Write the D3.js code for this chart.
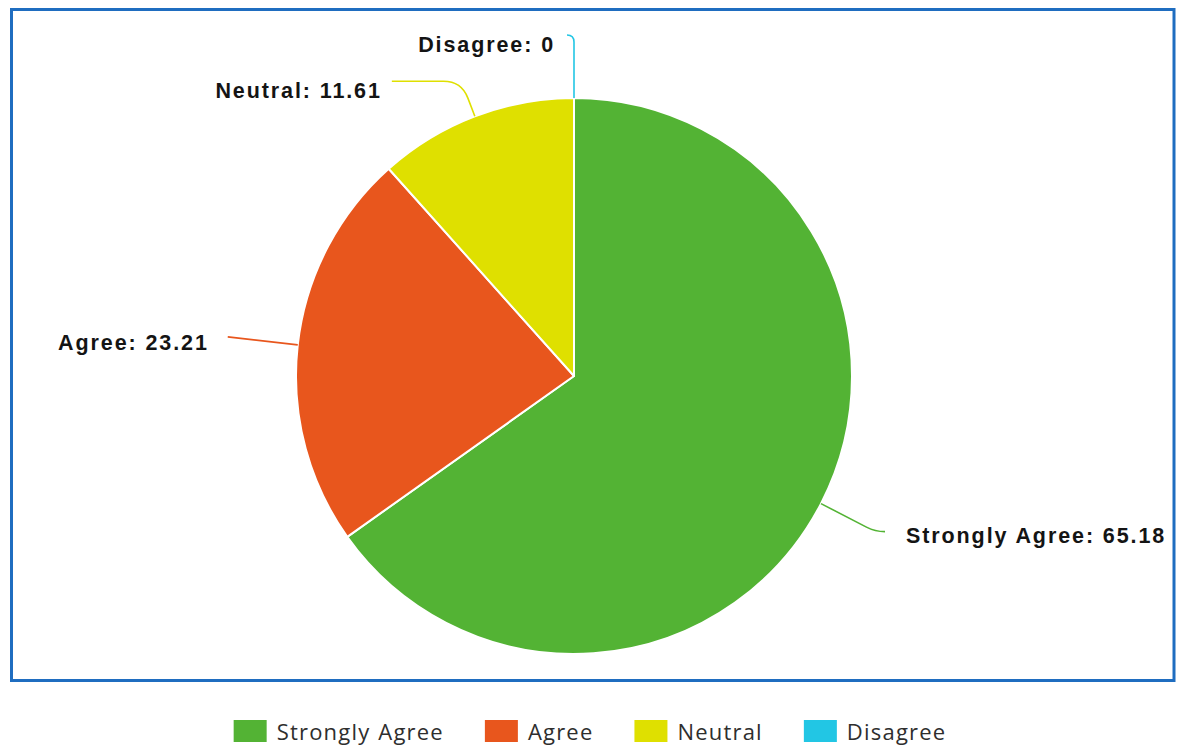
<!DOCTYPE html>
<html>
<head>
<meta charset="utf-8">
<script src="https://cdn.jsdelivr.net/npm/d3@7/dist/d3.min.js"></script>
<style>
  html, body { margin: 0; padding: 0; background: #fff; }
  svg { display: block; }
</style>
</head>
<body>
<svg id="chart" width="1189" height="749"></svg>
<script>
// ---- data ----
const categories = ["Strongly Agree", "Agree", "Neutral", "Disagree"];
const values = [65.18, 23.21, 11.61, 0];
const colors = ["#53b334", "#e8561d", "#dfe000", "#22c6e4"];

// ---- label layout (offset of leader-line end from slice edge, text offsets) ----
const labelLayout = {
  "Strongly Agree": { dx: 64, dy: 28, tdx: 21, tdy: 11.5, anchor: "start" },
  "Agree":          { dx: -70, dy: -8, tdx: -19, tdy: 13, anchor: "end" },
  "Neutral":        { dx: -83, dy: -35, tdx: -10, tdy: 17, anchor: "end" },
  "Disagree":       { dx: -7, dy: -63, tdx: -12, tdy: 16.5, anchor: "end" }
};

const W = 1189, H = 749;
const cx = 574, cy = 376, R = 278;

const svg = d3.select("#chart");

// frame
svg.append("rect")
  .attr("x", 11.5).attr("y", 9.5)
  .attr("width", 1162.5).attr("height", 671)
  .attr("fill", "none")
  .attr("stroke", "#1f6dc0")
  .attr("stroke-width", 3);

const data = categories.map((c, i) => ({ cat: c, value: values[i], color: colors[i] }));

const pie = d3.pie().sort(null).value(d => d.value).startAngle(0).endAngle(2 * Math.PI);
const arcs = pie(data);
const arc = d3.arc().innerRadius(0).outerRadius(R);

const g = svg.append("g").attr("transform", `translate(${cx},${cy})`);

g.selectAll("path.slice")
  .data(arcs.filter(a => a.endAngle > a.startAngle))
  .join("path")
  .attr("class", "slice")
  .attr("d", arc)
  .attr("fill", d => d.data.color)
  .attr("stroke", "#fff")
  .attr("stroke-width", 2)
  .attr("stroke-linejoin", "round");

// leader lines + labels
arcs.forEach(a => {
  const mid = (a.startAngle + a.endAngle) / 2;
  const dir = [Math.sin(mid), -Math.cos(mid)];
  const p1 = [R * dir[0], R * dir[1]];
  const L = labelLayout[a.data.cat];
  const end = [p1[0] + L.dx, p1[1] + L.dy];
  let path;
  const t = Math.abs(dir[1]) > 1e-6 ? (end[1] - p1[1]) / dir[1] : -1;
  const corner = t > 0 ? [p1[0] + dir[0] * t, p1[1] + dir[1] * t] : null;
  const sign = Math.sign(end[0] - p1[0]) || 1;
  if (corner && (end[0] - corner[0]) * sign > 0) {
    const horiz = Math.abs(end[0] - corner[0]);
    const s = Math.min(18, t * 0.6, horiz);
    const aPt = [corner[0] - dir[0] * s, corner[1] - dir[1] * s];
    const bPt = [corner[0] + sign * s, corner[1]];
    path = `M${p1[0]},${p1[1]}L${aPt[0]},${aPt[1]}Q${corner[0]},${corner[1]} ${bPt[0]},${bPt[1]}L${end[0]},${end[1]}`;
  } else {
    path = `M${p1[0]},${p1[1]}L${end[0]},${end[1]}`;
  }
  g.append("path")
    .attr("d", path)
    .attr("fill", "none")
    .attr("stroke", a.data.color)
    .attr("stroke-width", 1.6);

  g.append("text")
    .attr("x", end[0] + L.tdx)
    .attr("y", end[1] + L.tdy)
    .attr("text-anchor", L.anchor)
    .attr("font-family", "'Liberation Sans', Arial, sans-serif")
    .attr("font-weight", "bold")
    .attr("font-size", 21.5)
    .attr("letter-spacing", "1.9px")
    .attr("fill", "#141414")
    .text(`${a.data.cat}: ${a.data.value}`);
});

// legend
const legend = svg.append("g");
const sqW = 33, sqH = 22, gapIn = 10, gapOut = 41;
const items = legend.selectAll("g.item").data(data).join("g").attr("class", "item");
items.append("rect")
  .attr("width", sqW).attr("height", sqH)
  .attr("y", 720)
  .attr("fill", d => d.color);
const texts = items.append("text")
  .attr("y", 740)
  .attr("font-family", "'Open Sans', sans-serif")
  .attr("font-size", 22)
  .attr("letter-spacing", "1.2px")
  .attr("word-spacing", "1px")
  .attr("fill", "#2e2e2e")
  .text(d => d.cat);
const widths = [];
texts.each(function () { widths.push(this.getComputedTextLength()); });
const total = widths.reduce((s, w) => s + sqW + gapIn + w, 0) + gapOut * (widths.length - 1);
let x0 = 590 - total / 2;
items.each(function (d, i) {
  d3.select(this).attr("transform", `translate(${x0},0)`);
  d3.select(this).select("text").attr("x", sqW + gapIn);
  x0 += sqW + gapIn + widths[i] + gapOut;
});
</script>
</body>
</html>
